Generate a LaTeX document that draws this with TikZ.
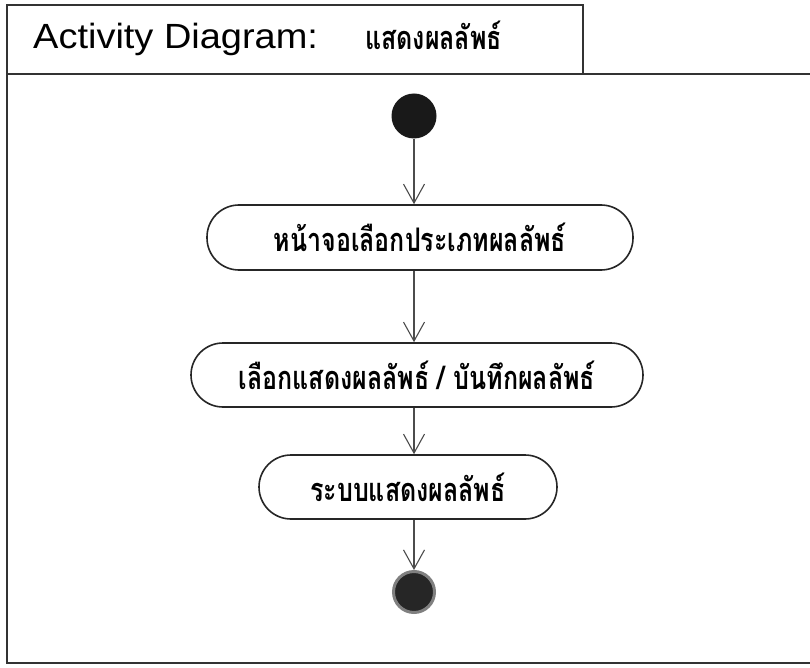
\documentclass[tikz,border=0pt]{standalone}
\usepackage{fontspec}
\setmainfont{Liberation Sans}
\newfontfamily\thaifont[Script=Thai]{Loma}
\usetikzlibrary{arrows.meta}
\newcommand{\thtext}[1]{\scalebox{1}[1.3]{\thaifont\bfseries\fontsize{25}{28}\selectfont #1}}
\begin{document}
\begin{tikzpicture}[x=1pt,y=-1pt,
  frame/.style={draw=black!80, line width=1.3pt},
  act/.style={draw=black!85, line width=1.6pt, rectangle, inner sep=0pt},
  flow/.style={draw=black!70, line width=1.1pt, -{Straight Barb[length=19pt,width=21pt,line width=1.1pt]}}]
\useasboundingbox (0,0) rectangle (810,668);
\fill[white] (0,0) rectangle (810,668);
\draw[frame] (810,74) -- (7,74) -- (7,663) -- (810,663);
\draw[frame] (7,74) -- (7,5) -- (583,5) -- (583,74);
\node[anchor=base west, font=\fontsize{35}{38}\selectfont, inner sep=0pt, xscale=1.085, transform shape] (title) at (33,49) {Activity Diagram:};
\node[anchor=base west, inner sep=0pt] (name) at (365,50) {\thtext{แสดงผลลัพธ์}};
\node[circle, fill=black!90, minimum size=45pt, inner sep=0pt] (s) at (414,116) {};
\node[act, rounded corners=32pt, minimum width=426pt, minimum height=65pt] (a1) at (420,237.5) {\thtext{หน้าจอเลือกประเภทผลลัพธ์}};
\node[act, rounded corners=32pt, minimum width=452pt, minimum height=64pt] (a2) at (417,375) {\thtext{เลือกแสดงผลลัพธ์ / บันทึกผลลัพธ์}};
\node[act, rounded corners=32pt, minimum width=298pt, minimum height=64pt] (a3) at (408,487) {\thtext{ระบบแสดงผลลัพธ์}};
\node[circle, draw=black!50, line width=3pt, fill=black!85, minimum size=41pt, inner sep=0pt] (e) at (414,592) {};
\draw[flow] (s.south) -- (s.south |- a1.north);
\draw[flow] (s |- a1.south) -- (s |- a2.north);
\draw[flow] (s |- a2.south) -- (s |- a3.north);
\draw[flow] (s |- a3.south) -- (e.north);
\end{tikzpicture}
\end{document}
